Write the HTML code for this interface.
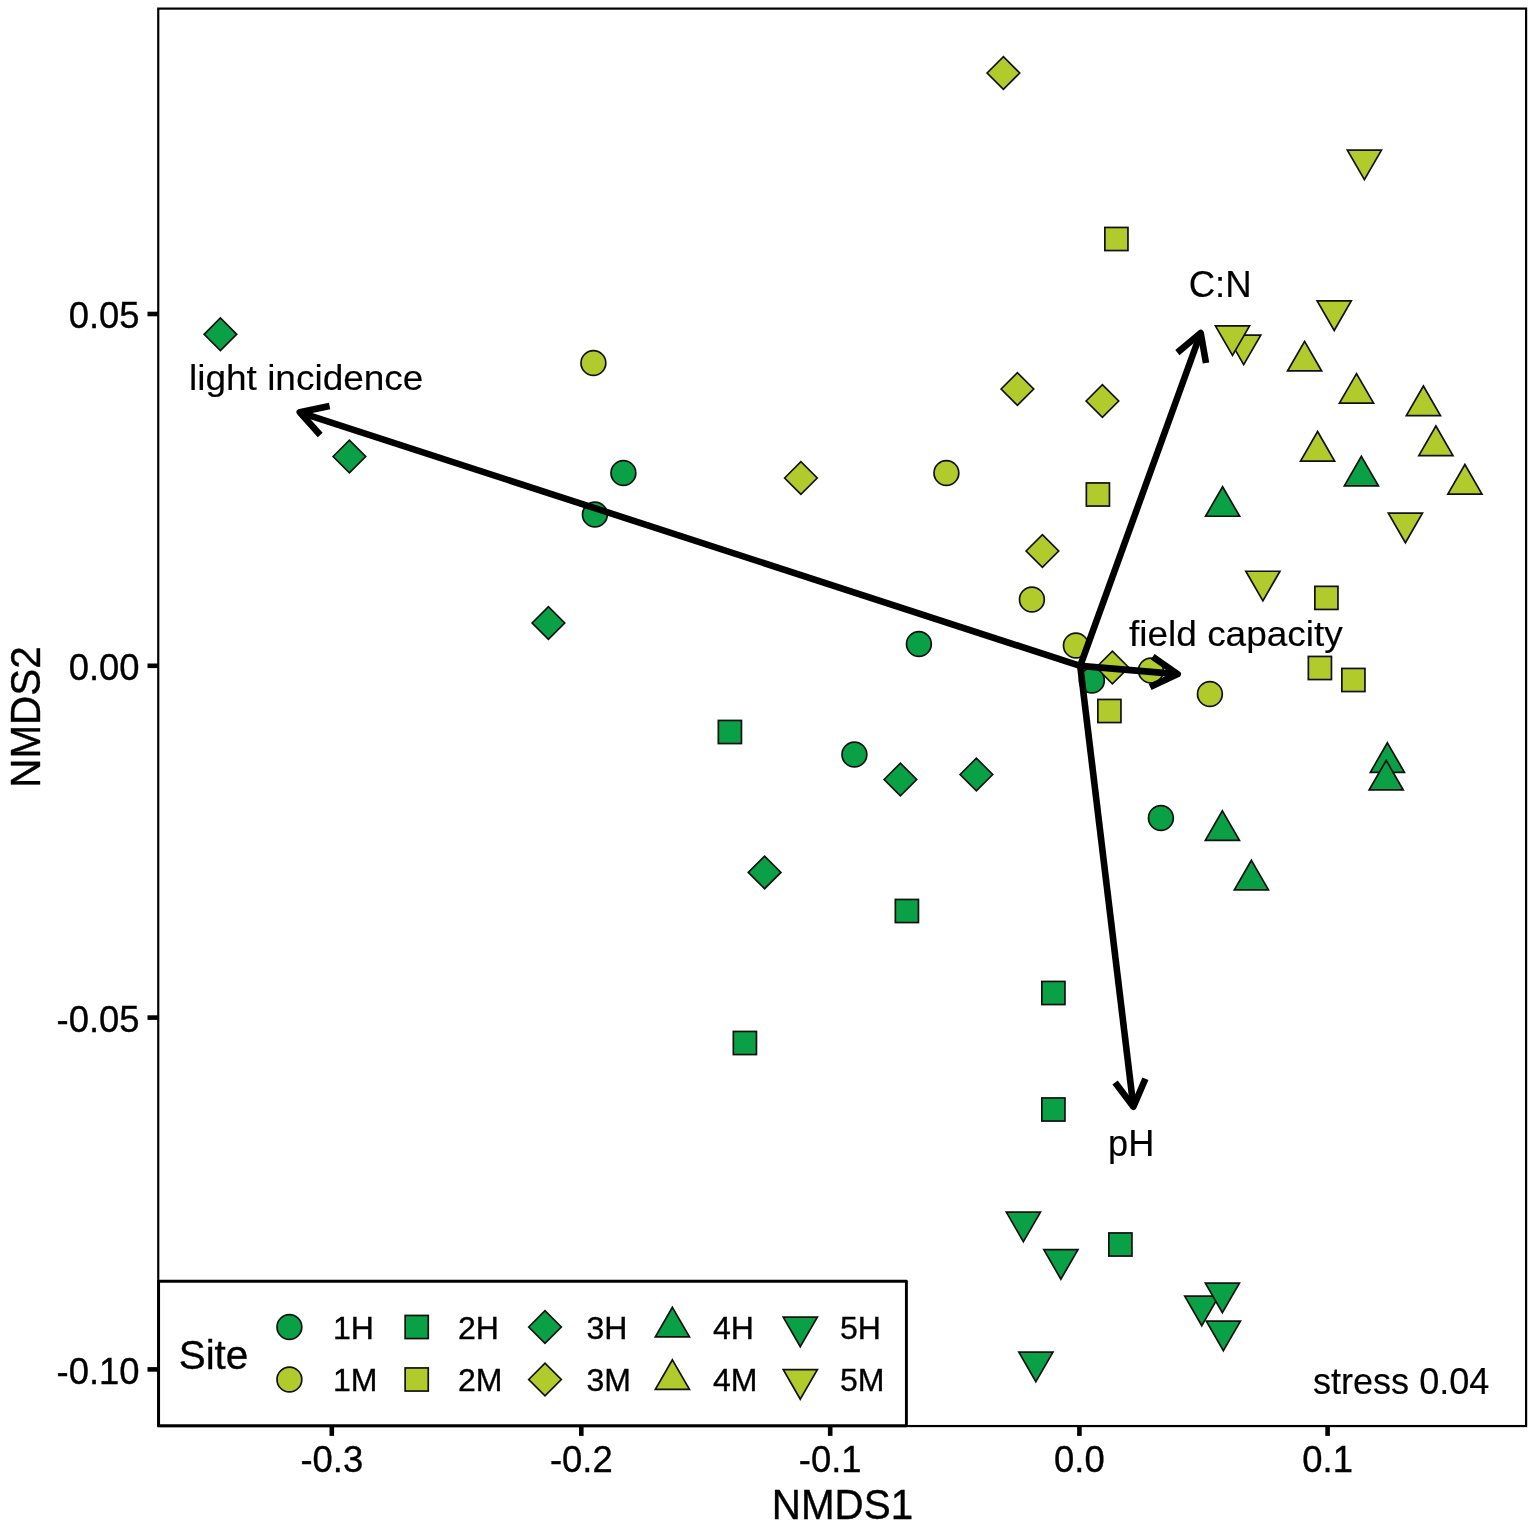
<!DOCTYPE html>
<html><head><meta charset="utf-8"><title>NMDS</title>
<style>
html,body{margin:0;padding:0;background:#fff;}
svg{display:block}
text{font-family:"Liberation Sans",sans-serif;fill:#000;stroke:#000;stroke-width:0.35px}
.tk{font-size:36.4px}
.ax{font-size:40.4px}
.lg{font-size:32px}
.an{font-size:37px;stroke-width:0.15px}
</style></head><body>
<svg width="1535" height="1528" viewBox="0 0 1535 1528">
<rect x="0" y="0" width="1535" height="1528" fill="#fff"/>

<rect x="158.25" y="8.6" width="1367.85" height="1417.45" fill="none" stroke="#000" stroke-width="2.2"/>
<path d="M331.8 1426.05V1435.9" stroke="#000" stroke-width="4.6"/>
<text class="tk" x="331.8" y="1471.6" text-anchor="middle">-0.3</text>
<path d="M581.3 1426.05V1435.9" stroke="#000" stroke-width="4.6"/>
<text class="tk" x="581.3" y="1471.6" text-anchor="middle">-0.2</text>
<path d="M830.2 1426.05V1435.9" stroke="#000" stroke-width="4.6"/>
<text class="tk" x="830.2" y="1471.6" text-anchor="middle">-0.1</text>
<path d="M1079.4 1426.05V1435.9" stroke="#000" stroke-width="4.6"/>
<text class="tk" x="1079.4" y="1471.6" text-anchor="middle">0.0</text>
<path d="M1327.6 1426.05V1435.9" stroke="#000" stroke-width="4.6"/>
<text class="tk" x="1327.6" y="1471.6" text-anchor="middle">0.1</text>
<path d="M158.25 314H147.5" stroke="#000" stroke-width="4.6"/>
<text class="tk" x="139.5" y="328.2" text-anchor="end">0.05</text>
<path d="M158.25 665.8H147.5" stroke="#000" stroke-width="4.6"/>
<text class="tk" x="139.5" y="680.0" text-anchor="end">0.00</text>
<path d="M158.25 1017.6H147.5" stroke="#000" stroke-width="4.6"/>
<text class="tk" x="139.5" y="1031.8" text-anchor="end">-0.05</text>
<path d="M158.25 1369.4H147.5" stroke="#000" stroke-width="4.6"/>
<text class="tk" x="139.5" y="1383.6" text-anchor="end">-0.10</text>
<text class="ax" transform="translate(842.5 1519.2) scale(1 1.035)" text-anchor="middle">NMDS1</text>
<text class="ax" transform="translate(39.5 717) rotate(-90) scale(1 1.05)" text-anchor="middle">NMDS2</text>
<path d="M204.1 334.3L220.4 318.0L236.70000000000002 334.3L220.4 350.6Z" fill="#0aa046" stroke="#111" stroke-width="1.7" stroke-linejoin="miter"/>
<circle cx="593.4" cy="363.0" r="12.4" fill="#b1ca2c" stroke="#111" stroke-width="1.7" stroke-linejoin="miter"/>
<path d="M333.09999999999997 456.5L349.4 440.2L365.7 456.5L349.4 472.8Z" fill="#0aa046" stroke="#111" stroke-width="1.7" stroke-linejoin="miter"/>
<circle cx="623.4" cy="473.0" r="12.4" fill="#0aa046" stroke="#111" stroke-width="1.7" stroke-linejoin="miter"/>
<circle cx="594.9" cy="514.5" r="12.4" fill="#0aa046" stroke="#111" stroke-width="1.7" stroke-linejoin="miter"/>
<path d="M532.1 623.0L548.4 606.7L564.6999999999999 623.0L548.4 639.3Z" fill="#0aa046" stroke="#111" stroke-width="1.7" stroke-linejoin="miter"/>
<rect x="718.35" y="720.45" width="23.1" height="23.1" fill="#0aa046" stroke="#111" stroke-width="1.7" stroke-linejoin="miter"/>
<path d="M748.3000000000001 872.4L764.6 856.1L780.9 872.4L764.6 888.6999999999999Z" fill="#0aa046" stroke="#111" stroke-width="1.7" stroke-linejoin="miter"/>
<rect x="733.35" y="1031.45" width="23.1" height="23.1" fill="#0aa046" stroke="#111" stroke-width="1.7" stroke-linejoin="miter"/>
<circle cx="854.4" cy="754.5" r="12.4" fill="#0aa046" stroke="#111" stroke-width="1.7" stroke-linejoin="miter"/>
<path d="M884.1 779.5L900.4 763.2L916.6999999999999 779.5L900.4 795.8Z" fill="#0aa046" stroke="#111" stroke-width="1.7" stroke-linejoin="miter"/>
<path d="M960.1 774.5L976.4 758.2L992.6999999999999 774.5L976.4 790.8Z" fill="#0aa046" stroke="#111" stroke-width="1.7" stroke-linejoin="miter"/>
<circle cx="1160.9" cy="818.0" r="12.4" fill="#0aa046" stroke="#111" stroke-width="1.7" stroke-linejoin="miter"/>
<path d="M1222.4 810.8L1239.46 840.35L1205.34 840.35Z" fill="#0aa046" stroke="#111" stroke-width="1.7" stroke-linejoin="miter"/>
<path d="M1251.4 860.3L1268.46 889.85L1234.34 889.85Z" fill="#0aa046" stroke="#111" stroke-width="1.7" stroke-linejoin="miter"/>
<path d="M1387.4 742.8L1404.46 772.35L1370.34 772.35Z" fill="#0aa046" stroke="#111" stroke-width="1.7" stroke-linejoin="miter"/>
<path d="M1386.2 760.4L1403.26 789.95L1369.14 789.95Z" fill="#0aa046" stroke="#111" stroke-width="1.7" stroke-linejoin="miter"/>
<rect x="895.35" y="899.45" width="23.1" height="23.1" fill="#0aa046" stroke="#111" stroke-width="1.7" stroke-linejoin="miter"/>
<rect x="1041.8500000000001" y="981.45" width="23.1" height="23.1" fill="#0aa046" stroke="#111" stroke-width="1.7" stroke-linejoin="miter"/>
<rect x="1041.8500000000001" y="1097.95" width="23.1" height="23.1" fill="#0aa046" stroke="#111" stroke-width="1.7" stroke-linejoin="miter"/>
<rect x="1108.8500000000001" y="1232.95" width="23.1" height="23.1" fill="#0aa046" stroke="#111" stroke-width="1.7" stroke-linejoin="miter"/>
<path d="M1023.4 1241.7L1040.46 1212.15L1006.34 1212.15Z" fill="#0aa046" stroke="#111" stroke-width="1.7" stroke-linejoin="miter"/>
<path d="M1060.9 1279.2L1077.96 1249.65L1043.84 1249.65Z" fill="#0aa046" stroke="#111" stroke-width="1.7" stroke-linejoin="miter"/>
<path d="M1201.8 1325.7L1218.86 1296.15L1184.74 1296.15Z" fill="#0aa046" stroke="#111" stroke-width="1.7" stroke-linejoin="miter"/>
<path d="M1222.4 1312.7L1239.46 1283.15L1205.34 1283.15Z" fill="#0aa046" stroke="#111" stroke-width="1.7" stroke-linejoin="miter"/>
<path d="M1223.4 1350.7L1240.46 1321.15L1206.34 1321.15Z" fill="#0aa046" stroke="#111" stroke-width="1.7" stroke-linejoin="miter"/>
<path d="M1035.9 1381.7L1052.96 1352.15L1018.84 1352.15Z" fill="#0aa046" stroke="#111" stroke-width="1.7" stroke-linejoin="miter"/>
<path d="M987.1 73.0L1003.4 56.7L1019.6999999999999 73.0L1003.4 89.3Z" fill="#b1ca2c" stroke="#111" stroke-width="1.7" stroke-linejoin="miter"/>
<path d="M1364.4 179.6L1381.46 150.05L1347.34 150.05Z" fill="#b1ca2c" stroke="#111" stroke-width="1.7" stroke-linejoin="miter"/>
<rect x="1104.8500000000001" y="227.45" width="23.1" height="23.1" fill="#b1ca2c" stroke="#111" stroke-width="1.7" stroke-linejoin="miter"/>
<path d="M1334.2 330.5L1351.26 300.95L1317.14 300.95Z" fill="#b1ca2c" stroke="#111" stroke-width="1.7" stroke-linejoin="miter"/>
<path d="M1243.7 364.59999999999997L1260.76 335.04999999999995L1226.64 335.04999999999995Z" fill="#b1ca2c" stroke="#111" stroke-width="1.7" stroke-linejoin="miter"/>
<path d="M1232.5 355.4L1249.56 325.84999999999997L1215.44 325.84999999999997Z" fill="#b1ca2c" stroke="#111" stroke-width="1.7" stroke-linejoin="miter"/>
<path d="M1304.6 341.40000000000003L1321.66 370.95000000000005L1287.54 370.95000000000005Z" fill="#b1ca2c" stroke="#111" stroke-width="1.7" stroke-linejoin="miter"/>
<path d="M1356.5 373.6L1373.56 403.15000000000003L1339.44 403.15000000000003Z" fill="#b1ca2c" stroke="#111" stroke-width="1.7" stroke-linejoin="miter"/>
<path d="M1423.4 386.0L1440.46 415.55L1406.34 415.55Z" fill="#b1ca2c" stroke="#111" stroke-width="1.7" stroke-linejoin="miter"/>
<path d="M1317.6 431.5L1334.66 461.05L1300.54 461.05Z" fill="#b1ca2c" stroke="#111" stroke-width="1.7" stroke-linejoin="miter"/>
<path d="M1435.9 426.0L1452.96 455.55L1418.84 455.55Z" fill="#b1ca2c" stroke="#111" stroke-width="1.7" stroke-linejoin="miter"/>
<path d="M1361.4 456.3L1378.46 485.85L1344.34 485.85Z" fill="#0aa046" stroke="#111" stroke-width="1.7" stroke-linejoin="miter"/>
<path d="M1464.9 464.5L1481.96 494.05L1447.84 494.05Z" fill="#b1ca2c" stroke="#111" stroke-width="1.7" stroke-linejoin="miter"/>
<path d="M1222.6 486.7L1239.66 516.25L1205.54 516.25Z" fill="#0aa046" stroke="#111" stroke-width="1.7" stroke-linejoin="miter"/>
<path d="M1405.4 542.7L1422.46 513.15L1388.34 513.15Z" fill="#b1ca2c" stroke="#111" stroke-width="1.7" stroke-linejoin="miter"/>
<path d="M1262.9 600.8000000000001L1279.96 571.25L1245.84 571.25Z" fill="#b1ca2c" stroke="#111" stroke-width="1.7" stroke-linejoin="miter"/>
<rect x="1314.8500000000001" y="586.35" width="23.1" height="23.1" fill="#b1ca2c" stroke="#111" stroke-width="1.7" stroke-linejoin="miter"/>
<path d="M1001.1 389.0L1017.4 372.7L1033.7 389.0L1017.4 405.3Z" fill="#b1ca2c" stroke="#111" stroke-width="1.7" stroke-linejoin="miter"/>
<path d="M1086.1000000000001 401.0L1102.4 384.7L1118.7 401.0L1102.4 417.3Z" fill="#b1ca2c" stroke="#111" stroke-width="1.7" stroke-linejoin="miter"/>
<path d="M784.6 478.0L800.9 461.7L817.1999999999999 478.0L800.9 494.3Z" fill="#b1ca2c" stroke="#111" stroke-width="1.7" stroke-linejoin="miter"/>
<circle cx="946.4" cy="473.0" r="12.4" fill="#b1ca2c" stroke="#111" stroke-width="1.7" stroke-linejoin="miter"/>
<rect x="1086.3500000000001" y="482.95" width="23.1" height="23.1" fill="#b1ca2c" stroke="#111" stroke-width="1.7" stroke-linejoin="miter"/>
<path d="M1026.1000000000001 551.0L1042.4 534.7L1058.7 551.0L1042.4 567.3Z" fill="#b1ca2c" stroke="#111" stroke-width="1.7" stroke-linejoin="miter"/>
<circle cx="1031.9" cy="599.5" r="12.4" fill="#b1ca2c" stroke="#111" stroke-width="1.7" stroke-linejoin="miter"/>
<circle cx="918.9" cy="644.0" r="12.4" fill="#0aa046" stroke="#111" stroke-width="1.7" stroke-linejoin="miter"/>
<circle cx="1075.9" cy="645.5" r="12.4" fill="#b1ca2c" stroke="#111" stroke-width="1.7" stroke-linejoin="miter"/>
<path d="M1096.1000000000001 667.5L1112.4 651.2L1128.7 667.5L1112.4 683.8Z" fill="#b1ca2c" stroke="#111" stroke-width="1.7" stroke-linejoin="miter"/>
<circle cx="1150.9" cy="670.5" r="12.4" fill="#b1ca2c" stroke="#111" stroke-width="1.7" stroke-linejoin="miter"/>
<circle cx="1091.9" cy="680.5" r="12.4" fill="#0aa046" stroke="#111" stroke-width="1.7" stroke-linejoin="miter"/>
<circle cx="1209.9" cy="694.0" r="12.4" fill="#b1ca2c" stroke="#111" stroke-width="1.7" stroke-linejoin="miter"/>
<rect x="1308.3500000000001" y="656.45" width="23.1" height="23.1" fill="#b1ca2c" stroke="#111" stroke-width="1.7" stroke-linejoin="miter"/>
<rect x="1341.8500000000001" y="668.45" width="23.1" height="23.1" fill="#b1ca2c" stroke="#111" stroke-width="1.7" stroke-linejoin="miter"/>
<rect x="1097.8500000000001" y="699.45" width="23.1" height="23.1" fill="#b1ca2c" stroke="#111" stroke-width="1.7" stroke-linejoin="miter"/>
<path d="M1080.2 665.9L299.8 412.3" stroke="#000" stroke-width="6.6" fill="none" stroke-linecap="butt"/><path d="M320.2 435.0L299.8 412.3L329.6 406.0" stroke="#000" stroke-width="6.6" fill="none" stroke-linecap="butt" stroke-linejoin="round"/>
<path d="M1080.2 665.9L1200.7 333.0" stroke="#000" stroke-width="6.6" fill="none" stroke-linecap="butt"/><path d="M1177.4 352.6L1200.7 333.0L1206.0 363.0" stroke="#000" stroke-width="6.6" fill="none" stroke-linecap="butt" stroke-linejoin="round"/>
<path d="M1080.2 665.9L1177.7 674.1" stroke="#000" stroke-width="6.6" fill="none" stroke-linecap="butt"/><path d="M1152.7 656.7L1177.7 674.1L1150.1 687.1" stroke="#000" stroke-width="6.6" fill="none" stroke-linecap="butt" stroke-linejoin="round"/>
<path d="M1080.2 665.9L1133.4 1106.8" stroke="#000" stroke-width="6.6" fill="none" stroke-linecap="butt"/><path d="M1145.4 1078.7L1133.4 1106.8L1115.1 1082.4" stroke="#000" stroke-width="6.6" fill="none" stroke-linecap="butt" stroke-linejoin="round"/>
<text class="an" style="font-size:37px" transform="translate(189 390.2) scale(1 0.945)">light incidence</text>
<text class="an" style="font-size:36.6px" transform="translate(1188.7 297.4) scale(1 1.0)">C:N</text>
<text class="an" style="font-size:37px" transform="translate(1129 646.3) scale(1 0.945)">field capacity</text>
<text class="an" style="font-size:36.2px" transform="translate(1108 1155.7) scale(1 1.03)">pH</text>
<text class="an" style="font-size:36.05px" transform="translate(1313 1393.9) scale(1 1.0)">stress 0.04</text>
<rect x="158.6" y="1281.3" width="747.8" height="144.4000000000001" fill="#fff" stroke="#000" stroke-width="2.9" stroke-linejoin="round"/>
<text class="ax" x="178.7" y="1368.5">Site</text>
<circle cx="289.4" cy="1327" r="12.4" fill="#0aa046" stroke="#111" stroke-width="1.7" stroke-linejoin="miter"/>
<circle cx="289.4" cy="1379.5" r="12.4" fill="#b1ca2c" stroke="#111" stroke-width="1.7" stroke-linejoin="miter"/>
<text class="lg" x="333" y="1338.5">1H</text>
<text class="lg" x="333" y="1390.5">1M</text>
<rect x="405.15" y="1315.45" width="23.1" height="23.1" fill="#0aa046" stroke="#111" stroke-width="1.7" stroke-linejoin="miter"/>
<rect x="405.15" y="1367.95" width="23.1" height="23.1" fill="#b1ca2c" stroke="#111" stroke-width="1.7" stroke-linejoin="miter"/>
<text class="lg" x="458" y="1338.5">2H</text>
<text class="lg" x="458" y="1390.5">2M</text>
<path d="M528.7 1327L545 1310.7L561.3 1327L545 1343.3Z" fill="#0aa046" stroke="#111" stroke-width="1.7" stroke-linejoin="miter"/>
<path d="M528.7 1379.5L545 1363.2L561.3 1379.5L545 1395.8Z" fill="#b1ca2c" stroke="#111" stroke-width="1.7" stroke-linejoin="miter"/>
<text class="lg" x="586.5" y="1338.5">3H</text>
<text class="lg" x="586.5" y="1390.5">3M</text>
<path d="M672.4 1307.3L689.46 1336.85L655.34 1336.85Z" fill="#0aa046" stroke="#111" stroke-width="1.7" stroke-linejoin="miter"/>
<path d="M672.4 1359.8L689.46 1389.35L655.34 1389.35Z" fill="#b1ca2c" stroke="#111" stroke-width="1.7" stroke-linejoin="miter"/>
<text class="lg" x="713" y="1338.5">4H</text>
<text class="lg" x="713" y="1390.5">4M</text>
<path d="M800.3 1346.7L817.36 1317.15L783.24 1317.15Z" fill="#0aa046" stroke="#111" stroke-width="1.7" stroke-linejoin="miter"/>
<path d="M800.3 1399.2L817.36 1369.65L783.24 1369.65Z" fill="#b1ca2c" stroke="#111" stroke-width="1.7" stroke-linejoin="miter"/>
<text class="lg" x="840" y="1338.5">5H</text>
<text class="lg" x="840" y="1390.5">5M</text>
</svg></body></html>
